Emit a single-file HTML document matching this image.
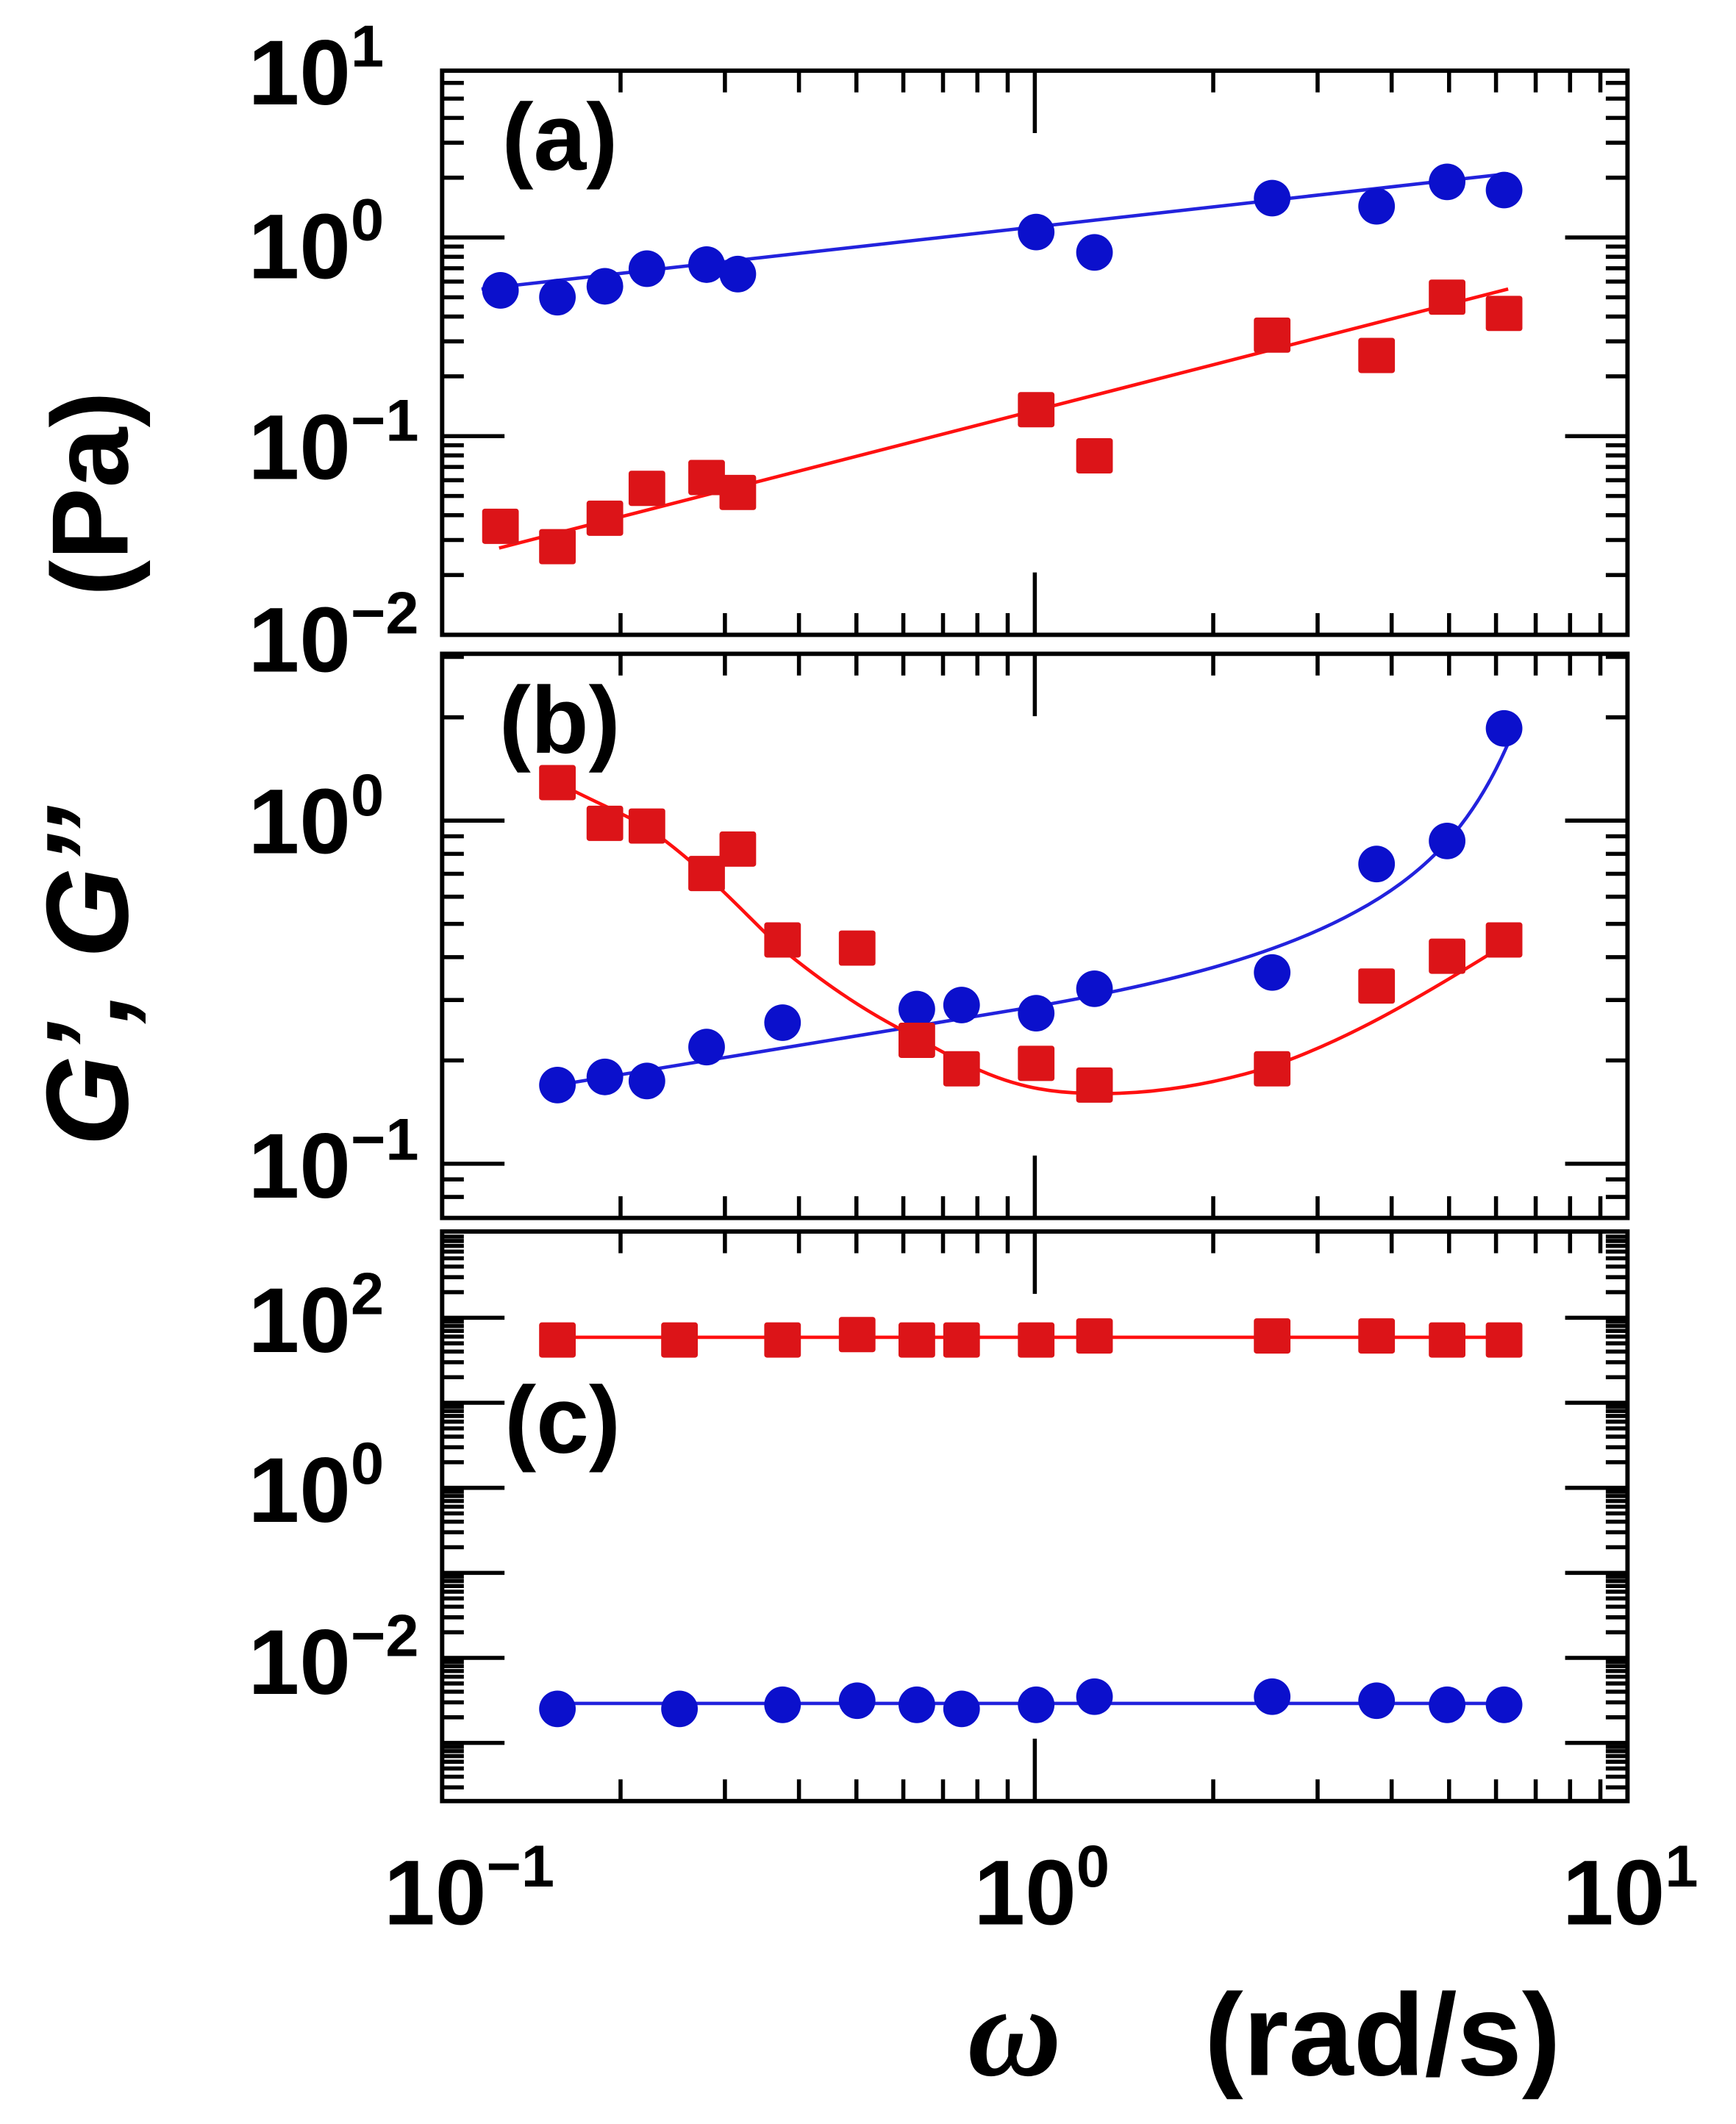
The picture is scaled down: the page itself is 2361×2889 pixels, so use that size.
<!DOCTYPE html>
<html><head><meta charset="utf-8"><style>
html,body{margin:0;padding:0;background:#fff;}
svg{display:block;}
.t{font-family:"Liberation Sans",sans-serif;font-weight:bold;fill:#000;}
</style></head><body>
<svg id="s" width="2361" height="2889" viewBox="0 0 1280 1566" xmlns="http://www.w3.org/2000/svg">
<rect width="1280" height="1566" fill="#fff"/>
<g id="g"></g>
<g class="t" font-size="68">
<text x="183" y="77">10<tspan font-size="44" dy="-28">1</tspan></text>
<text x="183" y="205">10<tspan font-size="44" dy="-28">0</tspan></text>
<text x="183" y="353">10<tspan font-size="44" dy="-28">−1</tspan></text>
<text x="183" y="495">10<tspan font-size="44" dy="-28">−2</tspan></text>
<text x="183" y="629">10<tspan font-size="44" dy="-28">0</tspan></text>
<text x="183" y="883">10<tspan font-size="44" dy="-28">−1</tspan></text>
<text x="183" y="997">10<tspan font-size="44" dy="-28">2</tspan></text>
<text x="183" y="1122">10<tspan font-size="44" dy="-28">0</tspan></text>
<text x="183" y="1249">10<tspan font-size="44" dy="-28">−2</tspan></text>
<text x="283" y="1419">10<tspan font-size="44" dy="-28">−1</tspan></text>
<text x="718" y="1419">10<tspan font-size="44" dy="-28">0</tspan></text>
<text x="1152" y="1419">10<tspan font-size="44" dy="-28">1</tspan></text>
</g>
<g class="t" font-size="70">
<text x="370" y="125">(a)</text>
<text x="368" y="555">(b)</text>
<text x="372" y="1071">(c)</text>
</g>
<text class="t" font-size="80" transform="translate(94,364) rotate(-90)" text-anchor="middle">(Pa)</text>
<text class="t" font-size="86" font-style="italic" transform="translate(94,720) rotate(-90)" text-anchor="middle">G’, G’’</text>
<text x="748" y="1530" font-family="Liberation Serif,serif" font-style="italic" font-weight="bold" font-size="96" text-anchor="middle">ω</text>
<text class="t" x="888" y="1530" font-size="86">(rad/s)</text>
</svg>
<script>
var g=document.getElementById('g'),h='';
var L=326,R=1200;
function X(w){return L+437*(Math.log10(w)+1);}
function ln(x1,y1,x2,y2,c,w){h+='<line x1="'+x1+'" y1="'+y1+'" x2="'+x2+'" y2="'+y2+'" stroke="'+(c||'#000')+'" stroke-width="'+(w||3)+'"/>';}
var panels=[[52,468,175,146.5],[482,898,605,253],[908,1328,1097,62.7]];
panels.forEach(function(p){
 var T=p[0],B=p[1],y0=p[2],d=p[3];
 h+='<rect x="'+L+'" y="'+T+'" width="'+(R-L)+'" height="'+(B-T)+'" fill="none" stroke="#000" stroke-width="3.2"/>';
 for(var e=-1;e<=0;e++)for(var m=1;m<=9;m++){var w=m*Math.pow(10,e),x=X(w);if(x<=L+1||x>=R-1)continue;var len=m==1?46:16;ln(x,T,x,T+len);ln(x,B,x,B-len);}
 for(var e=-5;e<=4;e++)for(var m=1;m<=9;m++){var y=y0-d*(e+Math.log10(m));if(y<=T+1||y>=B-1)continue;var len=m==1?46:16;ln(L,y,L+len,y);ln(R,y,R-len,y);}
});
var BL='#0b10cc',RD='#dc1418';
function line(pts,c){h+='<polyline points="'+pts.map(function(p){return p.join(',')}).join(' ')+'" fill="none" stroke="'+c+'" stroke-width="2.5"/>';}
function circ(x,y){h+='<circle cx="'+x+'" cy="'+y+'" r="13.5" fill="'+BL+'"/>';}
function sq(x,y){h+='<rect x="'+(x-13.5)+'" y="'+(y-13)+'" width="27" height="26" rx="2" fill="'+RD+'"/>';}
function path(d,c){h+='<path d="'+d+'" fill="none" stroke="'+c+'" stroke-width="2.5"/>';}
line([[355,213],[1112,128]],'#2222dd');
line([[368,404],[1112,213]],'#ff1010');
var ax=[369,411,446,477,521,544,764,807,938,1015,1067,1109];
[214,219,211,198,195,202,171,186,146,152,134,140].forEach(function(y,i){circ(ax[i],y);});
[388,403,382,360,352,363,302,336,247,262,219,231].forEach(function(y,i){sq(ax[i],y);});
path('M411,800 L764,742 C860,725 940,705 1000,672 C1050,645 1085,610 1112,548','#2222dd');
path('M411,577 C440,592 460,600 477,610 C520,640 550,675 577,700 C620,735 650,752 676,765 C720,790 750,805 800,806 C850,808 900,798 938,786 C990,768 1040,740 1112,695','#ff1010');
var bx=[411,446,477,521,577,676,709,764,807,938,1015,1067,1109];
[800,794,797,772,754,744,741,747,729,717,637,620,537].forEach(function(y,i){circ(bx[i],y);});
var rx=[411,446,477,521,544,577,632,676,709,764,807,938,1015,1067,1109];
[577,607,609,644,626,693,699,767,788,784,800,788,727,705,693].forEach(function(y,i){sq(rx[i],y);});
line([[411,986],[1112,986]],'#ff1010');
line([[411,1256],[1112,1256]],'#2222dd');
var cx=[411,501,577,632,676,709,764,807,938,1015,1067,1109];
[988,988,988,984,988,988,988,985,985,985,988,988].forEach(function(y,i){sq(cx[i],y);});
[1260,1260,1257,1254,1257,1260,1257,1251,1251,1254,1257,1257].forEach(function(y,i){circ(cx[i],y);});
g.innerHTML=h;
</script>
</body></html>
